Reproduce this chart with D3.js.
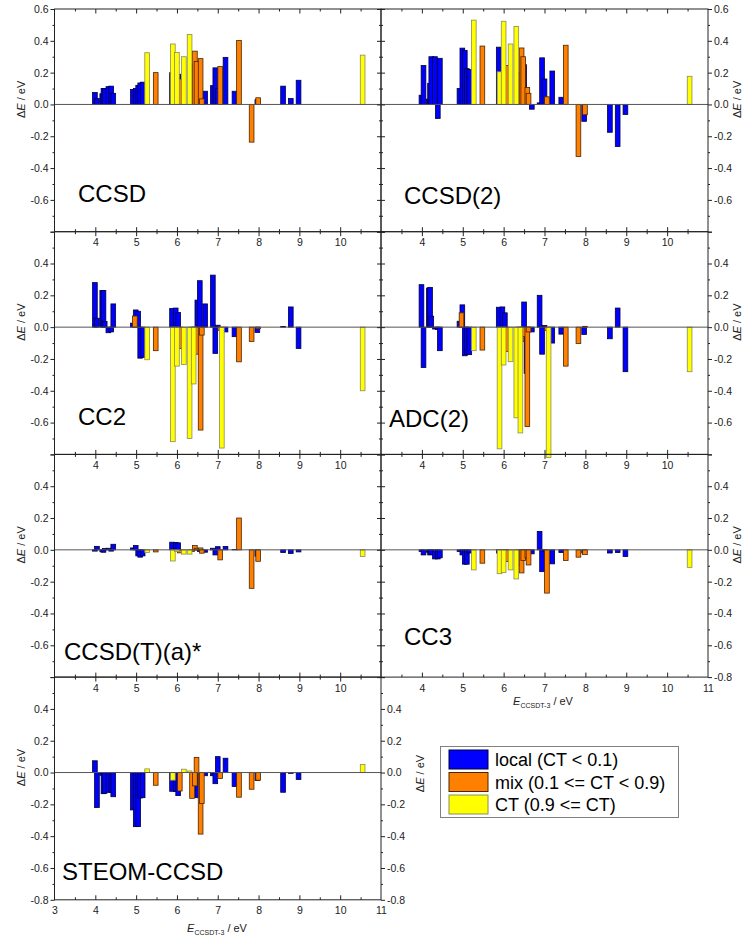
<!DOCTYPE html>
<html><head><meta charset="utf-8">
<script src="https://cdn.jsdelivr.net/npm/d3@7"></script>
<style>
body{margin:0;background:#fff}
svg{display:block}
text{font-family:"Liberation Sans",Arial,Helvetica,sans-serif}
</style>
</head><body>
<svg id="c" width="750" height="952"></svg>
<script>
// ---------- DATA ----------
const energies = [3.99,4.04,4.17,4.20,4.23,4.32,4.39,4.44,
  4.92,4.97,4.99,5.05,5.10,5.16,
  5.27,5.48,
  5.88,5.90,5.97,6.00,6.03,6.07,6.17,6.31,6.37,6.41,6.44,6.48,6.50,6.56,6.58,6.61,6.69,
  6.88,6.94,7.00,7.06,7.10,7.19,
  7.41,7.52,7.83,7.97,7.99,8.60,8.79,8.98,10.55];
const types = ["L","L","L","L","L","L","L","L",
  "L","M","L","L","L","L",
  "C","M",
  "L","C","L","C","L","M","C","C","M","C","M","M","L","L","M","M","L",
  "L","L","L","M","C","L",
  "L","M","M","L","M","L","L","L","C"];
const ccsd = [0.075,0.037,0.067,0.10,0.10,0.112,0.115,0.07,
  0.094,null,0.10,0.12,0.135,0.14,
  0.325,0.2,
  0.2,0.38,0.15,0.327,0.19,0.16,0.3,0.44,0.25,null,0.335,0.27,0.16,0.1,0.288,0.035,0.083,
  0.118,0.23,0.1,0.238,null,0.296,
  0.083,0.402,-0.237,0.03,0.042,0.115,0.037,0.152,0.31];
const ccsd2 = [0.058,0.245,0.033,0.133,0.3,0.3,-0.088,0.29,
  0.1,null,0.354,0.34,0.225,0.22,
  0.53,0.367,
  0.36,0.205,0.1,0.523,0.2,0.245,0.38,0.49,0.2,null,0.355,0.3,0.25,0.05,0.106,0.07,-0.03,
  0.01,0.293,0.16,0.048,null,0.21,
  0.045,0.372,-0.327,-0.106,-0.065,-0.175,-0.265,-0.063,0.177];
const cc2 = [0.28,0.056,0.23,0.23,0.035,-0.035,-0.03,0.146,
  0.025,0.07,0.108,0.1,-0.195,-0.19,
  -0.205,-0.148,
  0.117,-0.72,0.12,-0.245,0.092,-0.134,-0.235,-0.7,-0.2,-0.357,-0.1,-0.17,0.17,0.292,-0.647,-0.05,0.146,
  0.327,-0.165,0.012,-0.02,-0.76,-0.03,
  -0.06,-0.218,-0.09,-0.033,-0.01,0.004,0.127,-0.134,-0.4];
const adc2 = [0.267,-0.254,0.245,0.25,0.069,-0.012,-0.015,-0.148,
  0.037,0.09,0.14,-0.18,-0.17,-0.173,
  -0.148,-0.144,
  0.125,-0.765,0.127,-0.238,0.09,-0.154,-0.217,-0.57,-0.3,-0.665,-0.09,-0.06,0.158,-0.29,-0.625,-0.03,-0.03,
  0.2,-0.17,0.01,-0.02,-0.82,-0.1,
  -0.044,-0.245,-0.103,-0.046,0.005,-0.073,0.12,-0.28,-0.28];
const ccsdta = [-0.008,0.022,-0.012,-0.015,0.008,0.01,-0.008,0.035,
  0.012,null,0.027,-0.038,-0.046,-0.038,
  -0.017,-0.013,
  0.048,-0.07,0.046,-0.01,0.044,-0.019,-0.027,-0.027,-0.01,null,0.027,0.01,0.005,-0.01,0.012,-0.021,-0.015,
  0.01,-0.032,0.02,-0.063,null,0.021,
  0.002,0.2,-0.242,-0.04,-0.072,-0.017,-0.023,-0.013,-0.042];
const cc3 = [-0.01,-0.032,-0.015,-0.032,-0.03,-0.057,-0.057,-0.05,
  -0.01,null,-0.032,-0.09,-0.09,-0.02,
  -0.126,-0.084,
  -0.02,-0.15,-0.02,-0.143,-0.03,-0.074,-0.126,-0.183,-0.1,null,-0.145,-0.067,-0.055,-0.04,-0.05,-0.095,-0.025,
  0.116,-0.137,-0.01,-0.272,null,-0.088,
  -0.017,-0.067,-0.046,-0.02,-0.03,-0.02,-0.017,-0.042,-0.11];
const steom = [0.074,-0.22,-0.017,-0.133,-0.13,-0.124,-0.126,-0.152,
  -0.235,null,-0.34,-0.34,-0.16,-0.158,
  0.023,-0.08,
  -0.118,-0.048,-0.12,null,-0.145,-0.116,0.021,0.01,-0.162,null,-0.084,0.095,-0.158,-0.05,-0.387,-0.194,-0.02,
  -0.02,-0.07,0.1,-0.037,null,0.09,
  -0.088,-0.155,-0.105,-0.05,-0.048,-0.124,-0.005,-0.044,0.05];

const methodNames = ["CCSD","CCSD(2)","CC2","ADC(2)","CCSD(T)(a)*","CC3","STEOM-CCSD"];
const methodData = [ccsd, ccsd2, cc2, adc2, ccsdta, cc3, steom];
const xMajor = [3,4,5,6,7,8,9,10,11];
const xMinor = [3.5,4.5,5.5,6.5,7.5,8.5,9.5,10.5];
const yMajor = [0.6,0.4,0.2,0,-0.2,-0.4,-0.6,-0.8];
const yMinor = [0.5,0.3,0.1,-0.1,-0.3,-0.5,-0.7];
const typeOrder = ["L","M","C"];
const legendLabels = ["local (CT < 0.1)","mix (0.1 <= CT < 0.9)","CT (0.9 <= CT)"];

// ---------- LAYOUT ----------
const colX = [[54.5,381],[381,708]];
const rowTop = [9,231.7,454.4,677.1], rowH = 222.7;
const fill = {L:"#0000ff", M:"#ff8000", C:"#ffff00"};
const edge = {L:"#00003a", M:"#4a2400", C:"#8a8a60"};
const barW = 0.115;
const axisCol = "#222";

const panels = [
  {col:0,row:0, yl:"left", ylab:[0.6,0.4,0.2,0,-0.2,-0.4,-0.6], xlab:[4,5,6,7,8,9,10], lx:78, ly:193},
  {col:1,row:0, yl:"right", ylab:[0.6,0.4,0.2,0,-0.2,-0.4,-0.6], xlab:[4,5,6,7,8,9,10], lx:404, ly:195},
  {col:0,row:1, yl:"left", ylab:[0.4,0.2,0,-0.2,-0.4,-0.6], xlab:[4,5,6,7,8,9,10], lx:78, ly:193},
  {col:1,row:1, yl:"right", ylab:[0.4,0.2,0,-0.2,-0.4,-0.6], xlab:[4,5,6,7,8,9,10], lx:389, ly:195},
  {col:0,row:2, yl:"left", ylab:[0.4,0.2,0,-0.2,-0.4,-0.6], xlab:[4,5,6,7,8,9,10], lx:64, ly:206},
  {col:1,row:2, yl:"right", ylab:[0.4,0.2,0,-0.2,-0.4,-0.6,-0.8], xlab:[4,5,6,7,8,9,10,11], lx:404, ly:191, xtitle:true},
  {col:0,row:3, yl:"both", ylab:[0.4,0.2,0,-0.2,-0.4,-0.6,-0.8], xlab:[3,4,5,6,7,8,9,10,11], lx:62, ly:203, xtitle:true}
];

const svg = d3.select("#c");
const fmt = d => d===0 ? "0.0" : d3.format(".1f")(d).replace("−","-");
const gBars = svg.append("g");
const gAxes = svg.append("g");

function styleAxis(sel){
  sel.select(".domain").remove();
  sel.selectAll("line").attr("stroke",axisCol).attr("stroke-width",1);
  sel.selectAll("text").attr("fill","#222").style("font-size","10.5px")
     .style("font-family",'"Liberation Sans",Arial,sans-serif');
}
function yTitle(g, xpos, ypos){
  const t = g.append("text").attr("transform",`translate(${xpos},${ypos}) rotate(-90)`)
    .attr("text-anchor","middle").style("font-size","11px").attr("fill","#222");
  t.append("tspan").text("Δ");
  t.append("tspan").text("E").style("font-style","italic");
  t.append("tspan").text(" / eV");
}
function xTitle(g, xpos, ypos){
  const t = g.append("text").attr("x",xpos).attr("y",ypos).attr("text-anchor","middle")
    .style("font-size","11px").attr("fill","#222");
  t.append("tspan").text("E").style("font-style","italic");
  t.append("tspan").text("CCSDT-3").style("font-size","7px").attr("dy",3);
  t.append("tspan").text(" / eV").attr("dy",-3);
}

panels.forEach((p,i) => {
  const [x0,x1] = colX[p.col];
  const top = rowTop[p.row], bot = top + rowH;
  const x = d3.scaleLinear().domain([3,11]).range([x0,x1]);
  const y = d3.scaleLinear().domain([-0.8,0.6]).range([bot,top]);
  const data = methodData[i];
  const recs = energies.map((e,k)=>({e, t:types[k], v:data[k]})).filter(d=>d.v!=null);
  const bw = x(3+barW) - x(3);

  typeOrder.forEach(t => {
    gBars.append("g").selectAll("rect").data(recs.filter(d=>d.t===t)).join("rect")
      .attr("x", d=>x(d.e)-bw/2).attr("width", bw)
      .attr("y", d=>y(Math.max(0,d.v))).attr("height", d=>Math.abs(y(d.v)-y(0)))
      .attr("fill", fill[t]).attr("stroke", edge[t]).attr("stroke-width",0.8);
  });

  const g = gAxes.append("g");
  g.append("line").attr("x1",x0).attr("x2",x1).attr("y1",y(0)).attr("y2",y(0))
    .attr("stroke","#555").attr("stroke-width",1);
  g.append("rect").attr("x",x0).attr("y",top).attr("width",x1-x0).attr("height",rowH)
    .attr("fill","none").attr("stroke",axisCol).attr("stroke-width",1);

  const inner = xMajor.slice(1,-1);
  g.append("g").attr("transform",`translate(0,${top})`)
    .call(d3.axisBottom(x).tickValues(inner).tickSize(4.5).tickFormat("")).call(styleAxis);
  g.append("g").attr("transform",`translate(0,${top})`)
    .call(d3.axisBottom(x).tickValues(xMinor).tickSize(2.5).tickFormat("")).call(styleAxis);
  g.append("g").attr("transform",`translate(0,${bot})`)
    .call(d3.axisTop(x).tickValues(inner).tickSize(4.5).tickFormat("")).call(styleAxis);
  g.append("g").attr("transform",`translate(0,${bot})`)
    .call(d3.axisTop(x).tickValues(xMinor).tickSize(2.5).tickFormat("")).call(styleAxis);
  g.append("g").attr("transform",`translate(0,${bot})`)
    .call(d3.axisBottom(x).tickValues(p.xlab).tickSize(0).tickPadding(7).tickFormat(d3.format("d")))
    .call(styleAxis);

  const leftX = x0, rightX = x1;
  if (p.col === 0) {
    g.append("g").attr("transform",`translate(${leftX},0)`)
      .call(d3.axisLeft(y).tickValues(yMajor).tickSize(4).tickPadding(2)
        .tickFormat(d => p.ylab.includes(d) ? fmt(d) : "")).call(styleAxis);
    g.append("g").attr("transform",`translate(${leftX},0)`)
      .call(d3.axisLeft(y).tickValues(yMinor).tickSize(2).tickFormat("")).call(styleAxis);
    yTitle(g, 25, y(0)-5);
  }
  if (p.col === 1) {
    g.append("g").attr("transform",`translate(${leftX},0)`)
      .call(d3.axisLeft(y).tickValues(yMajor).tickSize(4).tickFormat("")).call(styleAxis);
    g.append("g").attr("transform",`translate(${leftX},0)`)
      .call(d3.axisRight(y).tickValues(yMajor).tickSize(4).tickFormat("")).call(styleAxis);
    g.append("g").attr("transform",`translate(${leftX},0)`)
      .call(d3.axisRight(y).tickValues(yMinor).tickSize(2).tickFormat("")).call(styleAxis);
    g.append("g").attr("transform",`translate(${leftX},0)`)
      .call(d3.axisLeft(y).tickValues(yMinor).tickSize(2).tickFormat("")).call(styleAxis);
    g.append("g").attr("transform",`translate(${rightX},0)`)
      .call(d3.axisRight(y).tickValues(yMajor).tickSize(4).tickPadding(2)
        .tickFormat(d => p.ylab.includes(d) ? fmt(d) : "")).call(styleAxis);
    g.append("g").attr("transform",`translate(${rightX},0)`)
      .call(d3.axisRight(y).tickValues(yMinor).tickSize(2).tickFormat("")).call(styleAxis);
    yTitle(g, 741, y(0)-5);
  }
  if (p.yl === "both") {
    g.append("g").attr("transform",`translate(${rightX},0)`)
      .call(d3.axisRight(y).tickValues(yMajor).tickSize(4).tickPadding(2)
        .tickFormat(d => p.ylab.includes(d) ? fmt(d) : "")).call(styleAxis);
    g.append("g").attr("transform",`translate(${rightX},0)`)
      .call(d3.axisRight(y).tickValues(yMinor).tickSize(2).tickFormat("")).call(styleAxis);
    yTitle(g, 424, y(0)+1);
  }
  if (p.xtitle) {
    xTitle(g, p.col===0 ? 217 : 543, bot + (p.col===0 ? 32 : 28));
  }
  g.append("text").attr("x",p.lx).attr("y",top+p.ly).text(methodNames[i])
    .style("font-size","24px").attr("fill","#000");
});

// legend
const lg = svg.append("g");
lg.append("rect").attr("x",440.5).attr("y",746.5).attr("width",238).attr("height",71)
  .attr("fill","#fff").attr("stroke","#808080").attr("stroke-width",1);
lg.selectAll("g.item").data(typeOrder).join("g").attr("class","item")
  .attr("transform",(d,k)=>`translate(449,${750 + k*22.5})`)
  .each(function(d,k){
    const s = d3.select(this);
    s.append("rect").attr("x",0).attr("y",0).attr("width",39).attr("height",19)
      .attr("fill",fill[d]).attr("stroke",edge[d]).attr("stroke-width",1);
    s.append("text").attr("x",46).attr("y",16).text(legendLabels[k])
      .style("font-size","18px").attr("fill","#000");
  });
</script>
</body></html>
